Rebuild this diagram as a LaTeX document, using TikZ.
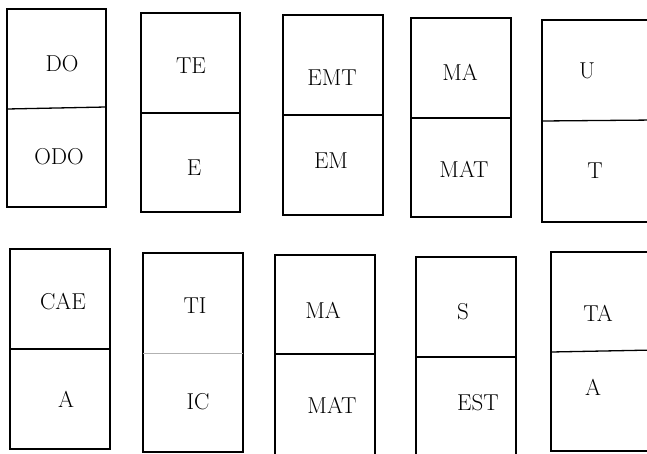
\documentclass[tikz,border=0pt]{standalone}
\usepackage{tikz}
\usetikzlibrary{positioning}

\begin{document}
\begin{tikzpicture}[x=1pt,y=-1pt,
  card/.style={line width=1.3pt},
  lbl/.style={font=\fontsize{23}{28}\selectfont,inner sep=0pt}]
  \useasboundingbox (0,0) rectangle (647,453);
  % upper row
  \draw[card] (7,9) rectangle (106,207);
  \draw[card] (7,109) -- (106,107);
  \node[lbl] (do) at (62,64) {DO};
  \node[lbl] (odo) at (59,157) {ODO};
  \draw[card] (141,13) rectangle (240,212);
  \draw[card] (141,113) -- (240,113);
  \node[lbl] (te) at (191,66) {TE};
  \node[lbl] (e) at (194,168) {E};
  \draw[card] (283,15) rectangle (383,215);
  \draw[card] (283,115) -- (383,115);
  \node[lbl] (emt) at (332,78) {EMT};
  \node[lbl] (em) at (331,161) {EM};
  \draw[card] (411,18) rectangle (511,217);
  \draw[card] (411,118) -- (511,118);
  \node[lbl] (ma) at (460,72) {MA};
  \node[lbl] (mat) at (464,169) {MAT};
  \draw[card] (542,20) rectangle (655,222);
  \draw[card] (542,121) -- (655,120);
  \node[lbl] (u) at (587,71) {U};
  \node[lbl] (t) at (595,171) {T};
  % lower row
  \draw[card] (10,249) rectangle (110,449);
  \draw[card] (10,349) -- (110,349);
  \node[lbl] (cae) at (63,302) {CAE};
  \node[lbl] (a) at (66,399) {A};
  \draw[card] (143,253) rectangle (243,452);
  \draw[gray!60,line width=0.8pt] (143,353) -- (243,353); % duenne Linie
  \node[lbl] (ti) at (195,306) {TI};
  \node[lbl] (ic) at (198,402) {IC};
  \draw[card] (275,255) rectangle (375,460);
  \draw[card] (275,354) -- (375,354);
  \node[lbl] (ma2) at (323,310) {MA};
  \node[lbl] (mat2) at (332,405) {MAT};
  \draw[card] (416,257) rectangle (516,460);
  \draw[card] (416,357) -- (516,357);
  \node[lbl] (s) at (463,312) {S};
  \node[lbl] (est) at (478,403) {EST};
  \draw[card] (551,252) rectangle (655,451);
  \draw[card] (551,352) -- (655,350);
  \node[lbl] (ta) at (598,313) {TA};
  \node[lbl] (a2) at (593,387) {A};
\end{tikzpicture}
\end{document}
